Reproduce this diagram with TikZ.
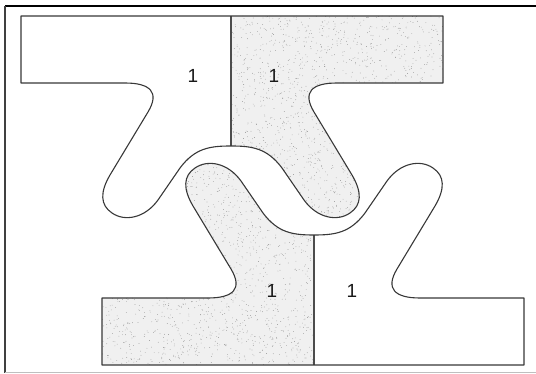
\documentclass[tikz,border=0pt]{standalone}
\usepackage{fontspec}
\setsansfont{Liberation Sans}
\begin{document}
\begin{tikzpicture}[x=1pt,y=-1pt,
  outline/.style={draw=black!78,line width=1.1pt,line join=round},
  divider/.style={draw=black!70,line width=1.1pt},
  stip/.style={fill=black!6},
  speck/.style={fill=black!50},
  lbl/.style={font=\sffamily\fontsize{19}{19}\selectfont,text=black!90,inner sep=0pt},
  frametop/.style={draw=black,line width=2pt},
  frameleft/.style={draw=black!75,line width=1.6pt},
  framebot/.style={draw=black!25,line width=1pt}]
\useasboundingbox (0,0) rectangle (536,374);
\newcommand\pcpath{(21,16) -- (21,83) -- (125,83) .. controls (150,83) and (160,92) .. (148,112) -- (110,175) .. controls (100,192) and (100,205) .. (112,213) .. controls (125,222) and (145,218) .. (158,200) -- (180,168) .. controls (195,148) and (210,146) .. (231,146) .. controls (252,146) and (267,148) .. (282,168) -- (304,200) .. controls (317,218) and (337,222) .. (350,213) .. controls (362,205) and (362,192) .. (352,175) -- (314,112) .. controls (302,92) and (312,83) .. (337,83) -- (443,83) -- (443,16) -- cycle}
\newcommand\drawpiece[1]{%
  \begin{scope}
    \path[clip] \pcpath;
    \fill[stip] (231,0) rectangle (450,240);
    \pgfmathsetseed{#1}
    \foreach \i in {1,...,1800}{%
      \pgfmathsetmacro\xx{231+214*rnd}%
      \pgfmathsetmacro\yy{14+214*rnd}%
      \fill[speck] (\xx,\yy) circle (0.35pt);}
  \end{scope}
  \draw[divider] (231,16) -- (231,146);
  \draw[outline] \pcpath;}
% frame
\coordinate (ftl) at (5,6);
\coordinate (ftr) at (536,6);
\coordinate (fbl) at (5,372.5);
\coordinate (fbr) at (536,372.5);
\draw[frametop] (ftl) -- (ftr);
\draw[frameleft] (ftl) -- (fbl);
\draw[framebot] (fbl) -- (fbr);
% top piece
\drawpiece{7}
% bottom piece (rotated copy)
\begin{scope}[rotate around={180:(272.5,190.5)}]
\drawpiece{13}
\end{scope}
% labels
\node[lbl] (l1) at (193,76) {1};
\node[lbl] (l2) at (274,76) {1};
\node[lbl] (l3) at (272,291) {1};
\node[lbl] (l4) at (352,291) {1};
\end{tikzpicture}
\end{document}
